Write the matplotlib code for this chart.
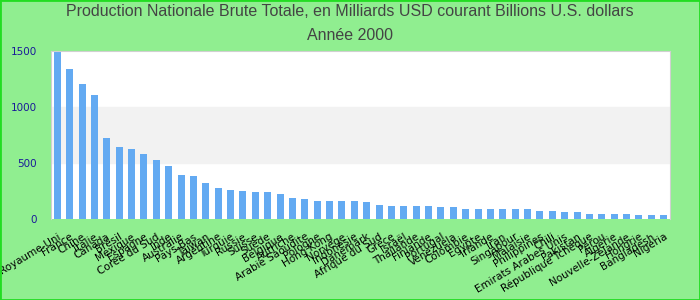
import matplotlib.pyplot as plt
import numpy as np
from matplotlib.patches import Rectangle

# Data (billions USD, year 2000)
countries = [
    "Royaume-Uni", "France", "Chine", "Italie", "Canada", "Brésil", "Mexique",
    "Espagne", "Corée du Sud", "Inde", "Australie", "Pays-Bas", "Taïwan",
    "Argentine", "Turquie", "Russie", "Suisse", "Suède", "Belgique", "Autriche",
    "Arabie Saoudite", "Pologne", "Hong Kong", "Norvège", "Indonésie",
    "Danemark", "Afrique du Sud", "Grèce", "Israël", "Thaïlande", "Finlande",
    "Portugal", "Venezuela", "Colombie", "Egypte", "Irlande", "Iran",
    "Singapour", "Malaisie", "Philippines", "Chili", "Emirats Arabes Unis",
    "Pakistan", "République Tchèque", "Pérou", "Algérie", "Nouvelle-Zélande",
    "Hongrie", "Bangladesh", "Nigeria",
]
gnp = [
    1488, 1337, 1203, 1104, 720, 640, 622, 578, 524, 471, 390, 381, 319,
    274, 256, 247, 238, 238, 220, 185, 176, 158, 158, 158, 158,
    149, 122, 113, 113, 113, 113, 104, 104, 86, 86, 86, 86,
    86, 86, 68, 68, 59, 59, 42, 42, 42, 42, 33, 33, 33,
]
yticks = [0, 500, 1000, 1500]

title = ("Production Nationale Brute Totale, en Milliards USD courant Billions U.S. dollars\n"
         "Année 2000")

fig = plt.figure(figsize=(7, 3), dpi=100, facecolor="#90ee90")
fig.patches.append(Rectangle((0, 0), 1, 1, transform=fig.transFigure,
                             fill=False, edgecolor="#22dd22", linewidth=2))

ax = fig.add_axes([0.073, 0.27, 0.884, 0.561])
ax.set_facecolor("white")

# alternating horizontal band
ax.axhspan(500, 1000, color="#f2f2f2", zorder=0)

x = np.arange(len(countries))
ax.bar(x, gnp, width=0.56, color="#63aaf2", zorder=2)

ax.set_xlim(-0.5, len(countries) - 0.5)
ax.set_ylim(0, 1500)
ax.set_yticks(yticks)
ax.set_yticklabels([str(v) for v in yticks], color="#1a1a99", fontsize=7.5)
ax.set_xticks(x)
ax.set_xticklabels(countries, rotation=31, ha="right", rotation_mode="anchor",
                   fontsize=7.5, color="black")
ax.tick_params(axis="x", length=0, pad=9)
ax.tick_params(axis="y", length=0, pad=10)

for side in ["top", "right", "left"]:
    ax.spines[side].set_color("#d0d0d0")
ax.spines["bottom"].set_visible(False)

fig.text(0.5, 0.985, title, ha="center", va="top", fontsize=11.5,
         color="#444444", family=["Liberation Sans", "DejaVu Sans"],
         linespacing=1.7)

fig.savefig("out.png", facecolor=fig.get_facecolor())
